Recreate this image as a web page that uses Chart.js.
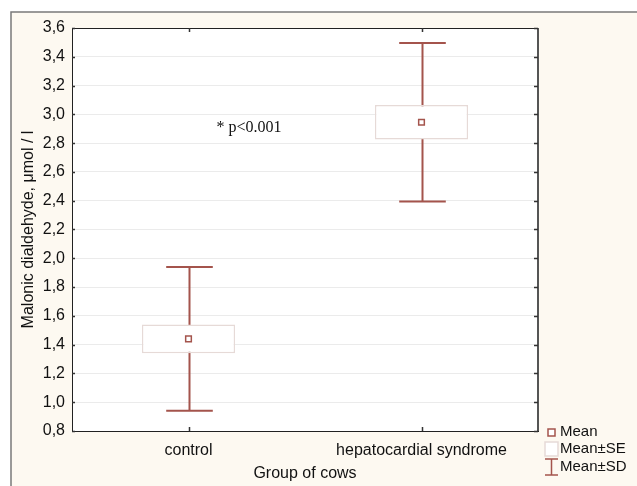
<!DOCTYPE html>
<html>
<head>
<meta charset="utf-8">
<script src="https://cdn.jsdelivr.net/npm/chart.js@4.4.1/dist/chart.umd.min.js"></script>
<style>
  body { margin: 0; background: #fff; }
  #wrap { width: 637px; height: 486px; }
</style>
</head>
<body>
<div id="wrap"><canvas id="mdaChart"></canvas></div>
<script>
const groups = ["control", "hepatocardial syndrome"];
const means = [1.44, 2.945];
const seValues = [0.10, 0.12];
const sdValues = [0.50, 0.55];
const yMin = 0.8, yMax = 3.6, yStep = 0.2;
const legendItems = ["Mean", "Mean\u00b1SE", "Mean\u00b1SD"];
const noteText = "* p<0.001";
const notePos = { x: 0.12, y: 2.91 }; // between the groups, in data units

const brown = "#a4544c";
const boxEdge = "#e6dad7";
const cream = "#fdf9f1";
const sans = "'Liberation Sans', Arial, sans-serif";

const seBoxes = means.map((m, i) => [m - seValues[i], m + seValues[i]]);

const decor = {
  id: "decor",
  beforeDraw(chart) {
    const ctx = chart.ctx, a = chart.chartArea;
    ctx.save();
    ctx.fillStyle = "#fff";
    ctx.fillRect(0, 0, chart.width, chart.height);
    ctx.fillStyle = cream;
    ctx.fillRect(11, 12, chart.width - 11, chart.height - 12);
    ctx.strokeStyle = "#7a7a7a";
    ctx.lineWidth = 1.5;
    ctx.beginPath();
    ctx.moveTo(11, chart.height);
    ctx.lineTo(11, 12);
    ctx.lineTo(chart.width, 12);
    ctx.stroke();
    ctx.fillStyle = "#fff";
    ctx.fillRect(a.left, a.top, a.right - a.left, a.bottom - a.top);
    ctx.restore();
  },
  beforeDatasetsDraw(chart) {
    const ctx = chart.ctx, a = chart.chartArea;
    const x = chart.scales.x, y = chart.scales.y;
    ctx.save();
    // frame
    ctx.strokeStyle = "#222";
    ctx.lineWidth = 1;
    ctx.strokeRect(a.left + 0.5, a.top + 0.5, a.right - a.left, a.bottom - a.top);
    ctx.strokeStyle = "#555";
    ctx.lineWidth = 2;
    ctx.beginPath();
    ctx.moveTo(a.right, a.top);
    ctx.lineTo(a.right, a.bottom);
    ctx.stroke();
    // small inward ticks
    ctx.strokeStyle = "#333";
    ctx.lineWidth = 1.5;
    ctx.beginPath();
    y.ticks.forEach(t => {
      const py = Math.round(y.getPixelForValue(t.value)) + 0.5;
      ctx.moveTo(a.right, py); ctx.lineTo(a.right - 4, py);
      ctx.moveTo(a.left, py); ctx.lineTo(a.left + 3, py);
    });
    groups.forEach((g, i) => {
      const px = Math.round(x.getPixelForValue(i)) + 0.5;
      ctx.moveTo(px, a.bottom); ctx.lineTo(px, a.bottom - 4);
      ctx.moveTo(px, a.top); ctx.lineTo(px, a.top + 4);
    });
    ctx.stroke();
    // SD whiskers (drawn under the SE boxes)
    const bars = chart.getDatasetMeta(1).data;
    ctx.strokeStyle = brown;
    ctx.lineWidth = 2;
    means.forEach((m, i) => {
      const px = Math.round(x.getPixelForValue(i)) + 0.5;
      const half = bars[i] ? bars[i].width / 4 : 23;
      const top = y.getPixelForValue(m + sdValues[i]);
      const bot = y.getPixelForValue(m - sdValues[i]);
      ctx.beginPath();
      ctx.moveTo(px, top); ctx.lineTo(px, bot);
      ctx.moveTo(px - half, top); ctx.lineTo(px + half, top);
      ctx.moveTo(px - half, bot); ctx.lineTo(px + half, bot);
      ctx.stroke();
    });
    ctx.restore();
  },
  afterDraw(chart) {
    const ctx = chart.ctx, a = chart.chartArea;
    const x = chart.scales.x, y = chart.scales.y;
    ctx.save();
    // annotation
    ctx.fillStyle = "#111";
    ctx.font = "16px 'Liberation Serif', 'Times New Roman', serif";
    ctx.textAlign = "left";
    ctx.textBaseline = "middle";
    ctx.fillText(noteText, x.getPixelForValue(notePos.x), y.getPixelForValue(notePos.y));
    // legend
    const lx = a.right + 4, tx = a.right + 22;
    const rows = [a.bottom + 1, a.bottom + 18, a.bottom + 36];
    ctx.font = "15px " + sans;
    ctx.fillStyle = "#111";
    legendItems.forEach((t, i) => ctx.fillText(t, tx, rows[i]));
    ctx.lineWidth = 1.5;
    ctx.strokeStyle = brown;
    ctx.fillStyle = "#fff";
    ctx.fillRect(lx + 6, rows[0] - 3, 7, 7);
    ctx.strokeRect(lx + 6, rows[0] - 3, 7, 7);
    ctx.strokeStyle = boxEdge;
    ctx.fillRect(lx + 3, rows[1] - 7, 13, 14);
    ctx.strokeRect(lx + 3, rows[1] - 7, 13, 14);
    ctx.strokeStyle = brown;
    ctx.beginPath();
    ctx.moveTo(lx + 3, rows[2] - 8); ctx.lineTo(lx + 16, rows[2] - 8);
    ctx.moveTo(lx + 9.5, rows[2] - 8); ctx.lineTo(lx + 9.5, rows[2] + 8);
    ctx.moveTo(lx + 3, rows[2] + 8); ctx.lineTo(lx + 16, rows[2] + 8);
    ctx.stroke();
    ctx.restore();
  }
};

new Chart(document.getElementById("mdaChart"), {
  type: "bar",
  data: {
    labels: groups,
    datasets: [
      {
        type: "line",
        label: "Mean",
        data: means,
        showLine: false,
        pointStyle: "rect",
        pointRadius: 4,
        pointBorderWidth: 1.5,
        pointBorderColor: brown,
        pointBackgroundColor: "#fff",
        order: 0
      },
      {
        label: "Mean\u00b1SE",
        data: seBoxes,
        backgroundColor: "#fff",
        borderColor: boxEdge,
        borderWidth: 1.5,
        borderSkipped: false,
        categoryPercentage: 1,
        barPercentage: 0.4,
        order: 1
      }
    ]
  },
  plugins: [decor],
  options: {
    responsive: true,
    maintainAspectRatio: false,
    animation: false,
    layout: { padding: { left: 11, top: 28, right: 99, bottom: 0 } },
    plugins: { legend: { display: false }, tooltip: { enabled: false } },
    scales: {
      x: {
        offset: true,
        grid: { display: false },
        border: { display: false },
        ticks: { color: "#111", font: { family: sans, size: 16 }, padding: 2 },
        title: { display: true, text: "Group of cows", color: "#111", font: { family: sans, size: 16 }, padding: { top: 0, bottom: 3 } },
        afterFit(scale) { scale.height = 55; }
      },
      y: {
        min: yMin,
        max: yMax,
        grid: { color: "#ebebeb", drawTicks: false },
        border: { display: false },
        ticks: {
          stepSize: yStep,
          color: "#111",
          font: { family: sans, size: 16 },
          padding: 7,
          callback: v => v.toFixed(1).replace(".", ",")
        },
        title: { display: true, text: "Malonic dialdehyde, \u03bcmol / l", color: "#111", font: { family: sans, size: 16 }, padding: { top: 8, bottom: 0 } },
        afterFit(scale) { scale.width = 61; }
      }
    }
  }
});
</script>
</body>
</html>
